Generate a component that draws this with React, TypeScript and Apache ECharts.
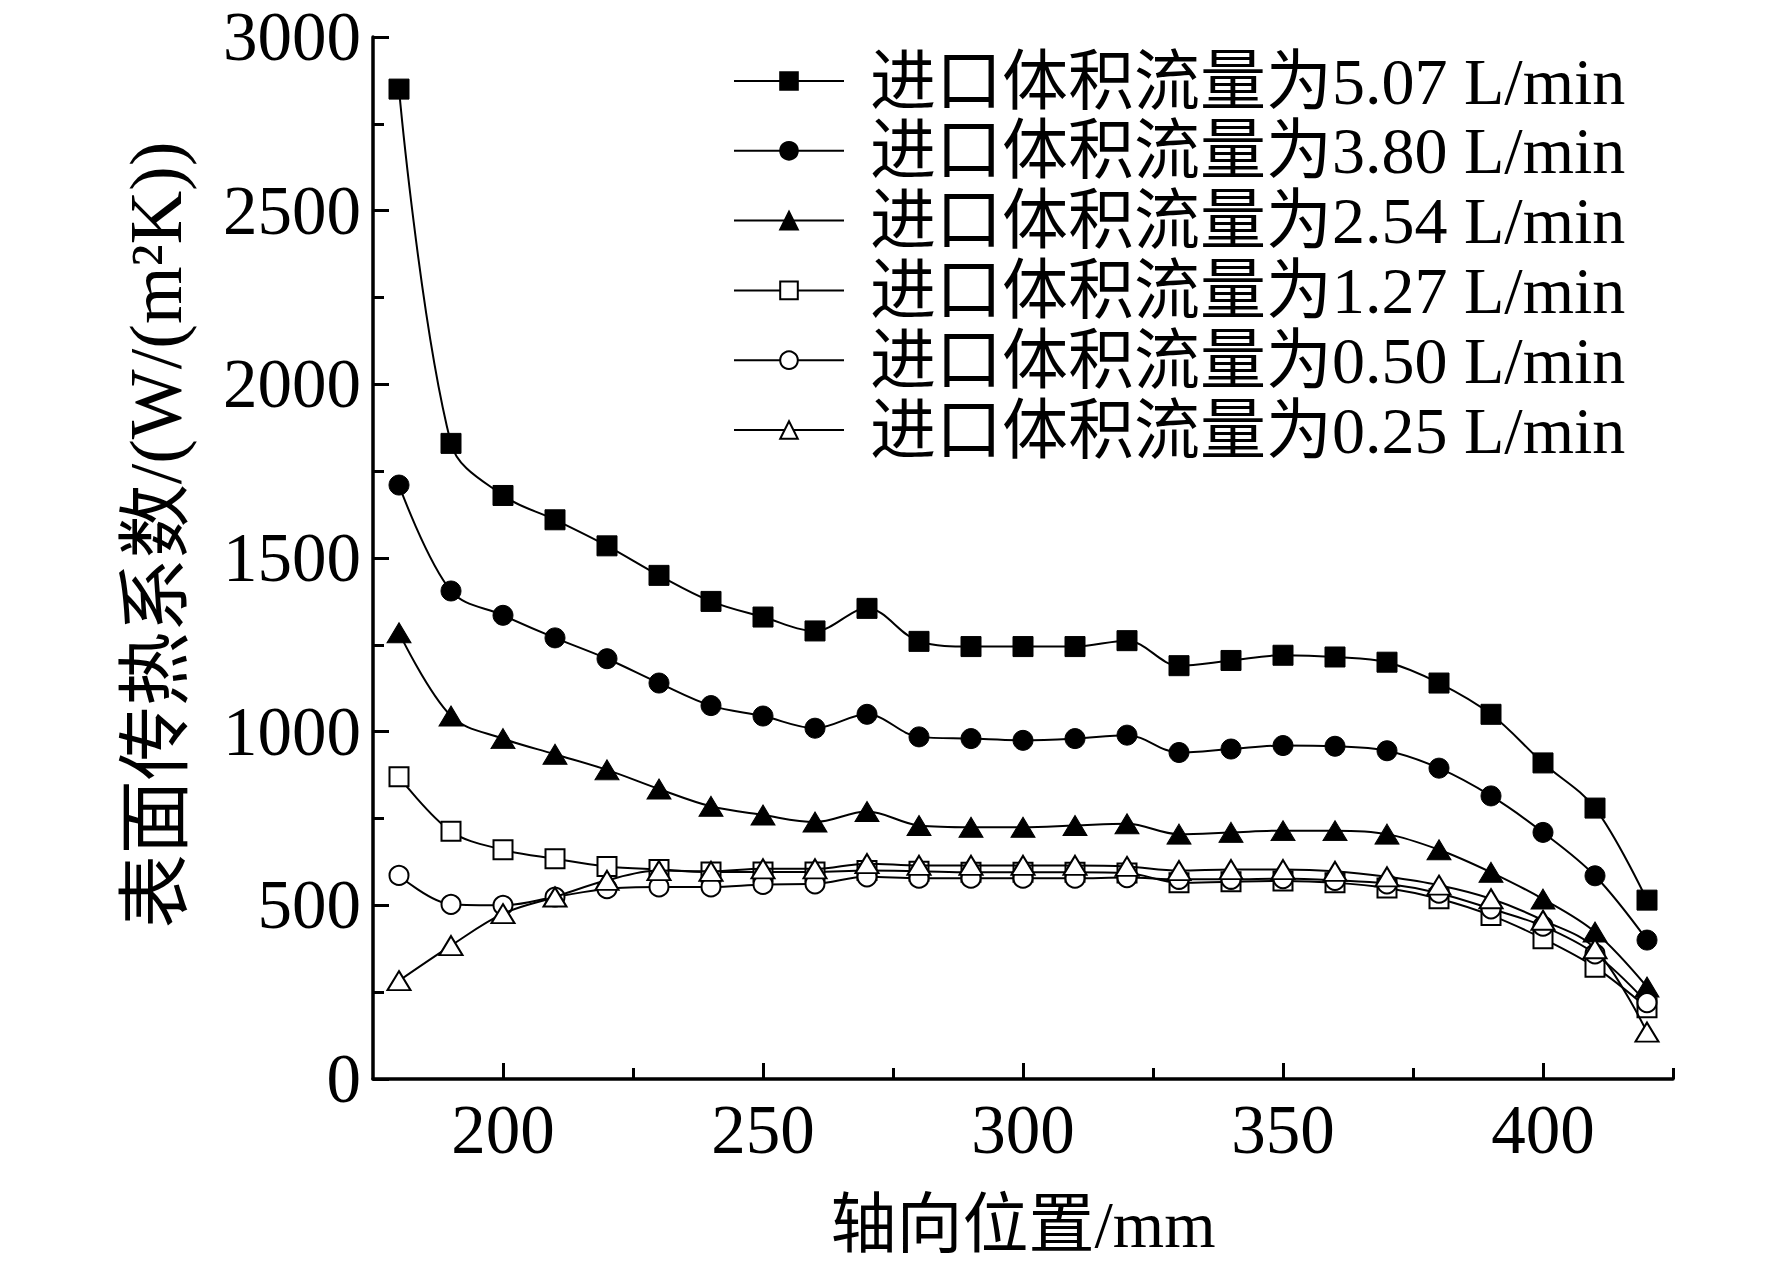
import React, { useEffect, useRef } from "react";
import * as echarts from "echarts";

const positions = [180, 190, 200, 210, 220, 230, 240, 250, 260, 270, 280, 290, 300, 310, 320, 330, 340, 350, 360, 370, 380, 390, 400, 410, 420];

const flow507 = [2850, 1830, 1680, 1610, 1535, 1450, 1375, 1330, 1290, 1355, 1260, 1245, 1245, 1245, 1262, 1190, 1205, 1220, 1215, 1200, 1140, 1050, 910, 780, 515];
const flow380 = [1710, 1405, 1335, 1270, 1210, 1140, 1075, 1045, 1010, 1050, 985, 980, 975, 980, 990, 940, 950, 960, 958, 945, 895, 815, 710, 585, 400];
const flow254 = [1285, 1045, 980, 935, 890, 835, 785, 760, 740, 770, 730, 725, 725, 730, 735, 705, 710, 715, 715, 705, 660, 595, 518, 423, 265];
const flow127 = [870, 713, 660, 634, 612, 603, 596, 596, 596, 600, 598, 595, 595, 595, 593, 565, 568, 570, 565, 550, 519, 471, 404, 322, 205];
const flow050 = [586, 503, 500, 524, 548, 553, 553, 560, 562, 582, 578, 578, 578, 578, 580, 575, 575, 577, 572, 562, 535, 490, 440, 360, 220];
const flow025 = [283, 384, 476, 524, 572, 600, 598, 605, 605, 620, 615, 615, 615, 615, 612, 600, 603, 603, 598, 582, 558, 519, 457, 375, 135];

const seriesNames = [
  "进口体积流量为5.07 L/min",
  "进口体积流量为3.80 L/min",
  "进口体积流量为2.54 L/min",
  "进口体积流量为1.27 L/min",
  "进口体积流量为0.50 L/min",
  "进口体积流量为0.25 L/min",
];

const xMajorTicks = [200, 250, 300, 350, 400];
const xMinorTicks = [225, 275, 325, 375, 425];

const FONT = "'Liberation Serif', 'Times New Roman', 'Noto Sans CJK SC', serif";

export default function App() {
  const ref = useRef<HTMLDivElement>(null);

  useEffect(() => {
    if (!ref.current) return;
    const chart = echarts.init(ref.current, null, { renderer: "svg" });

    const allData = [flow507, flow380, flow254, flow127, flow050, flow025];
    const symbols = ["rect", "circle", "triangle", "rect", "circle", "triangle"];
    const filled = [true, true, true, false, false, false];
    const sizes: any[] = [20, 20, [24, 20], 19, 19, [23, 19]];

    const series = allData.map((vals, i) => ({
      name: seriesNames[i],
      type: "line",
      xAxisIndex: 0,
      yAxisIndex: 0,
      data: positions.map((x, j) => [x, vals[j]]),
      smooth: 0.35,
      symbol: symbols[i],
      symbolSize: sizes[i],
      showSymbol: true,
      lineStyle: { color: "#000", width: 2 },
      itemStyle: filled[i]
        ? { color: "#000", borderColor: "#000", borderWidth: 1 }
        : { color: "#fff", borderColor: "#000", borderWidth: 2 },
      emphasis: { disabled: true },
      z: 2 + i,
    }));

    chart.setOption({
      animation: false,
      backgroundColor: "#fff",
      textStyle: { fontFamily: FONT, color: "#000" },
      grid: {
        left: 373,
        right: 99,
        top: 37,
        bottom: 186,
        containLabel: false,
        outerBoundsMode: "none",
      },
      legend: {
        orient: "vertical",
        left: 728,
        top: 43,
        itemWidth: 110,
        itemHeight: 22,
        itemGap: 3.8,
        data: seriesNames,
        textStyle: {
          fontFamily: FONT,
          fontSize: 66,
          lineHeight: 66,
          color: "#000",
          padding: [0, 0, 0, 21],
        },
        selectedMode: false,
      },
      xAxis: [
        {
          type: "value",
          min: 175,
          max: 425,
          name: "轴向位置/mm",
          nameLocation: "middle",
          nameGap: 112,
          nameTextStyle: { fontFamily: FONT, fontSize: 66, color: "#000" },
          axisLine: { show: true, onZero: false, lineStyle: { color: "#000", width: 3.5 } },
          axisTick: {
            show: true,
            inside: true,
            length: 16,
            customValues: xMajorTicks,
            lineStyle: { color: "#000", width: 3 },
          },
          axisLabel: {
            show: true,
            customValues: xMajorTicks,
            fontFamily: FONT,
            fontSize: 69,
            color: "#000",
            margin: 16,
          },
          splitLine: { show: false },
        },
        {
          type: "value",
          min: 175,
          max: 425,
          position: "bottom",
          axisLine: { show: false },
          axisTick: {
            show: true,
            inside: true,
            length: 11,
            customValues: xMinorTicks,
            lineStyle: { color: "#000", width: 3 },
          },
          axisLabel: { show: false },
          splitLine: { show: false },
        },
      ],
      yAxis: {
        type: "value",
        min: 0,
        max: 3000,
        interval: 500,
        name: "表面传热系数/(W/(m²K))",
        nameLocation: "middle",
        nameGap: 180,
        nameRotate: 90,
        nameTextStyle: { fontFamily: FONT, fontSize: 74, color: "#000", padding: [0, 0, 0, 46] },
        axisLine: { show: true, onZero: false, lineStyle: { color: "#000", width: 3.5 } },
        axisTick: { show: true, inside: true, length: 16, lineStyle: { color: "#000", width: 3 } },
        minorTick: { show: true, splitNumber: 2, length: 11, lineStyle: { color: "#000", width: 3 } },
        axisLabel: {
          fontFamily: FONT,
          fontSize: 69,
          color: "#000",
          margin: 12,
          formatter: (v: number) => String(v),
        },
        splitLine: { show: false },
        minorSplitLine: { show: false },
      },
      series,
    });

    return () => chart.dispose();
  }, []);

  return (
    <div
      ref={ref}
      style={{ position: "fixed", left: 0, top: 0, width: 1772, height: 1265, background: "#fff" }}
    />
  );
}
